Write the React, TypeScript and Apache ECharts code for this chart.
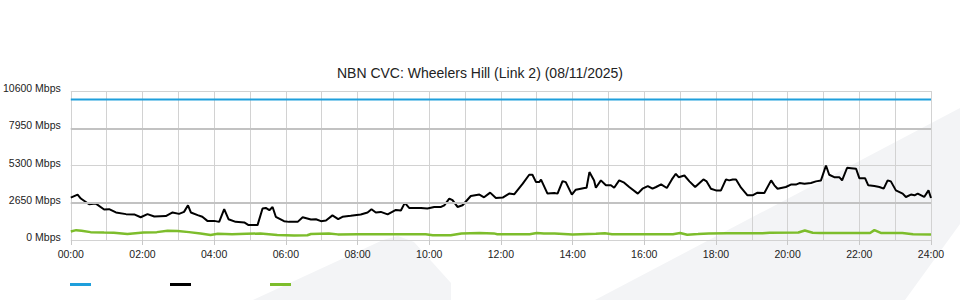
import React, { useEffect, useRef } from "react";
import * as echarts from "echarts";

const titleText = "NBN CVC: Wheelers Hill (Link 2) (08/11/2025)";
const yTicks = [0, 2650, 5300, 7950, 10600];
const seriesNames = ["Capacity", "Download", "Upload"];
const seriesColors = ["#1E9FDC", "#000000", "#7DBD2C"];

// [hour, Mbps]
const capacity: [number, number][] = [
  [0, 10000],
  [24, 10000],
];

const download: [number, number][] = [
  [0.0, 3020], [0.19, 3230], [0.28, 2950], [0.51, 2540], [0.7, 2590], [0.93, 2170],
  [1.07, 2190], [1.26, 1960], [1.54, 1840], [1.77, 1820], [1.95, 1620], [2.14, 1840],
  [2.33, 1670], [2.65, 1700], [2.84, 1960], [3.02, 1860], [3.16, 2000], [3.27, 2470],
  [3.35, 1960], [3.54, 1770], [3.67, 1650], [3.81, 1360], [4.0, 1360], [4.14, 1290],
  [4.28, 2190], [4.4, 1480], [4.6, 1290], [4.84, 1250], [4.96, 1060], [5.21, 1060],
  [5.35, 2240], [5.44, 2280], [5.54, 2120], [5.63, 2350], [5.72, 1650], [5.95, 1340],
  [6.09, 1290], [6.33, 1290], [6.47, 1620], [6.7, 1460], [6.84, 1480], [6.98, 1340],
  [7.12, 1390], [7.3, 1750], [7.46, 1480], [7.58, 1650], [7.81, 1720], [8.09, 1820],
  [8.28, 1960], [8.39, 2190], [8.51, 1960], [8.65, 2000], [8.84, 1820], [9.07, 2140],
  [9.21, 2100], [9.32, 2640], [9.44, 2280], [9.77, 2280], [9.95, 2240], [10.14, 2350],
  [10.33, 2350], [10.42, 2470], [10.56, 2950], [10.65, 2830], [10.79, 2350], [10.93, 2470],
  [11.16, 3130], [11.4, 3230], [11.53, 3040], [11.7, 3370], [11.86, 2990], [12.05, 3020],
  [12.23, 3300], [12.37, 3250], [12.61, 4010], [12.79, 4640], [12.88, 4640], [12.98, 4120],
  [13.07, 4120], [13.12, 4290], [13.3, 3300], [13.49, 3340], [13.58, 3300], [13.72, 4190],
  [13.81, 4120], [13.98, 3230], [14.09, 3580], [14.23, 3650], [14.33, 3700], [14.39, 3720],
  [14.47, 4830], [14.6, 4240], [14.65, 3720], [14.79, 4240], [14.93, 3890], [15.07, 3890],
  [15.16, 3720], [15.3, 4240], [15.44, 4080], [15.58, 3770], [15.82, 3300], [15.95, 3650],
  [16.1, 3840], [16.23, 3650], [16.33, 3770], [16.47, 3960], [16.63, 3700], [16.77, 4310],
  [16.88, 4710], [16.96, 4470], [17.12, 4590], [17.26, 4170], [17.42, 3770], [17.65, 4310],
  [17.74, 4170], [17.86, 3650], [18.0, 3530], [18.14, 3530], [18.28, 4310], [18.37, 4240],
  [18.47, 4310], [18.56, 4310], [18.7, 3720], [18.88, 3180], [19.02, 3180], [19.16, 3370],
  [19.35, 3340], [19.54, 4240], [19.63, 3890], [19.72, 3650], [19.95, 3770], [20.09, 3940],
  [20.23, 3940], [20.33, 4050], [20.47, 4010], [20.65, 4050], [20.79, 4170], [20.93, 4240],
  [21.07, 5300], [21.16, 4640], [21.3, 4470], [21.44, 4470], [21.52, 4240], [21.66, 5140],
  [21.77, 5110], [21.91, 5070], [22.0, 4400], [22.16, 4400], [22.25, 3890], [22.42, 3840],
  [22.56, 3770], [22.68, 3650], [22.79, 4240], [22.88, 4170], [23.02, 3530], [23.21, 3300],
  [23.3, 3060], [23.44, 3230], [23.54, 3180], [23.63, 3300], [23.81, 3060], [23.93, 3530],
  [24.0, 2990],
];

const upload: [number, number][] = [
  [0.0, 600], [0.15, 700], [0.3, 660], [0.55, 560], [0.93, 530], [1.2, 520], [1.58, 430],
  [2.03, 530], [2.4, 560], [2.7, 650], [2.98, 640], [3.3, 560], [3.62, 470], [3.9, 360],
  [4.1, 440], [4.5, 410], [4.9, 440], [5.29, 460], [5.76, 360], [6.23, 320], [6.6, 340],
  [6.7, 430], [7.2, 470], [7.45, 400], [8.0, 410], [9.0, 410], [9.9, 410], [10.1, 340],
  [10.6, 340], [10.9, 470], [11.4, 490], [11.8, 470], [11.9, 410], [12.8, 410], [13.0, 500],
  [13.2, 460], [13.5, 470], [14.0, 400], [14.65, 440], [14.9, 480], [15.1, 410], [16.8, 410],
  [17.0, 500], [17.2, 380], [17.5, 420], [17.8, 470], [18.3, 480], [19.3, 480], [19.5, 520],
  [20.3, 530], [20.48, 680], [20.7, 520], [20.9, 500], [22.3, 500], [22.42, 700], [22.6, 500],
  [23.2, 490], [23.5, 410], [24.0, 400],
];

const darkGridValues = [2650, 7950];

const FONT = "'Liberation Sans', Arial, sans-serif";

export default function App() {
  const ref = useRef<HTMLDivElement>(null);

  useEffect(() => {
    if (!ref.current) return;
    const chart = echarts.init(ref.current, undefined, { renderer: "svg" });
    const pad = (n: number) => (n < 10 ? "0" + n : "" + n);
    chart.setOption({
      animation: false,
      backgroundColor: "#ffffff",
      textStyle: { fontFamily: FONT },
      title: {
        text: titleText,
        left: "center",
        top: 61,
        textStyle: { fontSize: 14, fontWeight: "normal", color: "#222", fontFamily: FONT },
      },
      graphic: [
        {
          type: "polygon",
          z: -10,
          silent: true,
          shape: {
            points: [
              [253, 300], [383, 240], [398, 236], [414, 242], [451, 283], [451, 300],
            ],
          },
          style: { fill: "#f3f4f6" },
        },
        {
          type: "polygon",
          z: -10,
          silent: true,
          shape: {
            points: [
              [595, 300], [960, 108], [960, 224], [905, 300],
            ],
          },
          style: { fill: "#f3f4f6" },
        },
      ],
      legend: {
        left: 70,
        top: 283,
        padding: 0,
        itemWidth: 21,
        itemHeight: 3,
        itemGap: 79,
        icon: "rect",
        formatter: () => "",
        data: seriesNames,
        selectedMode: false,
      },
      grid: { left: 70, right: 29, top: 91, bottom: 60 },
      xAxis: {
        type: "value",
        min: 0,
        max: 24,
        interval: 2,
        axisLine: { show: false },
        axisTick: { show: true, length: 5, lineStyle: { color: "#c8c8c8" } },
        axisLabel: {
          fontSize: 10.5,
          color: "#222",
          margin: 8,
          fontFamily: FONT,
          formatter: (v: number) => pad(v) + ":00",
        },
        splitLine: { show: true, lineStyle: { color: "#d2d2d2", width: 1 } },
        minorTick: { show: false, splitNumber: 2 },
        minorSplitLine: { show: true, lineStyle: { color: "#d2d2d2", width: 1 } },
      },
      yAxis: {
        type: "value",
        min: 0,
        max: 10600,
        interval: 2650,
        axisLine: { show: false },
        axisTick: { show: false },
        axisLabel: {
          fontSize: 10.5,
          color: "#222",
          margin: 10,
          verticalAlign: "bottom",
          lineHeight: 6,
          fontFamily: FONT,
          formatter: (v: number) => (yTicks.includes(v) ? v + " Mbps" : ""),
        },
        splitLine: { show: true, lineStyle: { color: "#d2d2d2", width: 1 } },
      },
      series: [
        {
          name: seriesNames[0],
          type: "line",
          z: 1,
          data: capacity,
          showSymbol: false,
          lineStyle: { color: seriesColors[0], width: 2 },
          itemStyle: { color: seriesColors[0] },
          markLine: {
            silent: true,
            symbol: "none",
            label: { show: false },
            lineStyle: { color: "#c2c2c2", width: 2, type: "solid" },
            data: darkGridValues.map((v) => ({ yAxis: v })),
          },
        },
        {
          name: seriesNames[1],
          type: "line",
          z: 3,
          data: download,
          showSymbol: false,
          lineStyle: { color: seriesColors[1], width: 2 },
          itemStyle: { color: seriesColors[1] },
        },
        {
          name: seriesNames[2],
          type: "line",
          z: 3,
          data: upload,
          showSymbol: false,
          lineStyle: { color: seriesColors[2], width: 2.5 },
          itemStyle: { color: seriesColors[2] },
        },
      ],
    });
    return () => chart.dispose();
  }, []);

  return (
    <div
      ref={ref}
      style={{ position: "absolute", left: 0, top: 0, width: 960, height: 300 }}
    />
  );
}
